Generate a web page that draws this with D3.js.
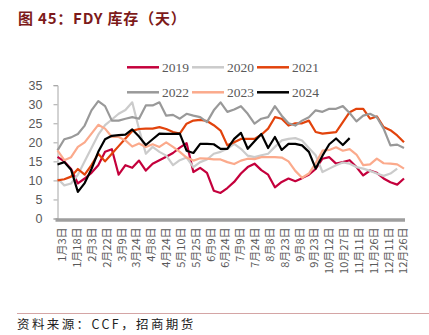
<!DOCTYPE html>
<html>
<head>
<meta charset="utf-8">
<script src="https://cdn.jsdelivr.net/npm/d3@7"></script>
<style>
  body { margin: 0; background: #fff; }
  svg { display: block; }
</style>
</head>
<body>
<div id="chart"></div>
<script>
var xLabels = ["1月3日","1月18日","2月3日","2月22日","3月9日","3月24日","4月8日","4月24日",
  "5月10日","5月25日","6月9日","6月24日","7月9日","7月24日","8月8日","8月23日",
  "9月8日","9月23日","10月12日","10月27日","11月11日","11月26日","12月11日","12月26日"];

var yTicks = [0, 5, 10, 15, 20, 25, 30, 35];

var seriesNames = ["2019", "2020", "2021", "2022", "2023", "2024"];
var seriesColors = ["#C4003C", "#CBCBCB", "#E2430C", "#999999", "#FBAA8C", "#000000"];

var v2019 = [16.2,15,13,9.2,10.5,12,14,17.5,18.2,11.5,14,13.3,15.2,12.6,14.4,15.3,16.2,17.2,18.6,19.8,
  12.2,13.3,12,7.3,6.7,8,9.6,11.8,13.5,14.4,12.7,11.5,8.2,9.6,10.5,9.8,10.6,11.5,13,15.7,
  16.1,14.4,14.8,15.3,13.5,11.3,12.6,12,10.5,9.5,8.9,10.5];
var v2020 = [10.5,8.7,9.2,11.5,15,18.5,22,24.5,26,27.5,28.5,30.5,23.5,17,18.8,17.5,16.5,14,15.3,16,
  13.5,14.8,15.5,17,17.5,18.3,19.6,18.3,16.5,16.1,16.6,17,18.8,20.5,20.9,21.1,20.5,18.5,16.6,12.2,
  13.1,14,14.7,14.4,13.5,13.1,12.5,11.8,11.2,11.8,13.1];
var v2021 = [10,10.3,11,13,11.5,14,17,15,17,19,21,23,23.5,23.6,23.6,24,23.5,22.7,22.3,24.9,
  25.7,25.9,25.6,24.5,23.1,19.2,20,20.9,20.9,20.9,22,23.6,26.6,26.2,24.4,25,25,25.7,22.7,22.3,
  22.5,22.7,25.3,27.9,28.8,28.8,26.2,26.8,24,23.2,21.8,20];
var v2022 = [17.9,20.8,21.3,22.2,24.4,28.4,30.8,29.5,25.7,25.7,26.2,26.6,26.2,29.7,29.7,30.5,27,27.2,26.2,27.5,
  27,26.6,25.3,28.4,30.5,28,28.6,29.5,27.5,24.9,26.2,26.6,29.5,27,25,24.4,25.7,26.6,28.4,28,
  28.8,28.8,29.5,27.7,25.5,27,27.5,26.6,23.6,19.2,19.4,18.5];
var v2023 = [17.9,15.3,16.1,18.8,20,22.3,24.6,23.6,21.4,21.4,20.5,18.9,19.7,18.8,19.5,18.8,20,18.8,17.5,16,
  15.2,15.8,15.7,15.5,15.5,14.8,14.3,15.2,15.7,15.6,16.1,16.1,16.1,16,15,12.5,10.7,11.8,14.5,17.8,
  18,18.7,17.8,18.2,16.8,14,14.2,15.7,14.5,14.4,14.2,13.1];
var v2024 = [14.2,14.8,12.8,7,9.3,13,17.5,20.8,21.7,21.9,22,23.4,21.5,19.3,20.8,22.3,22.2,22.2,22.3,17.8,
  17.2,19.6,19.6,19.5,18.3,18.3,20.9,22.5,18.3,20.3,22.2,18.5,21.4,18,19.6,19.6,19.2,17.5,13.1,16.5,
  19.5,21,19.3,21.1];

var allSeries = [v2019, v2020, v2021, v2022, v2023, v2024];

var width = 429, height = 335;
var plotLeft = 57.5, plotRight = 404, plotTop = 85.2, plotBottom = 218.5;
var nPoints = 52;

var svg = d3.select("#chart").append("svg")
  .attr("width", width)
  .attr("height", height);

/* Scales */
var xScale = d3.scaleLinear().domain([0, nPoints - 1]).range([plotLeft, plotRight]);
var xLabelScale = d3.scalePoint().domain(xLabels).range([62, 403]);
var yScale = d3.scaleLinear().domain([0, 35]).range([plotBottom, plotTop]);

/* Title */
svg.append("text")
  .attr("x", 18)
  .attr("y", 24)
  .style("font-family", "'Noto Sans CJK SC', sans-serif")
  .style("font-weight", "bold")
  .style("font-size", "15px")
  .style("letter-spacing", "0.8px")
  .style("fill", "#7D1A1A")
  .text("图 45：FDY 库存（天）");

/* Y axis */
var yAxis = d3.axisLeft(yScale).tickValues(yTicks).tickSize(4).tickPadding(11);
var yG = svg.append("g")
  .attr("transform", `translate(${plotLeft}, 0)`)
  .call(yAxis);
yG.select(".domain").attr("stroke", "#A6A6A6");
yG.selectAll(".tick line").attr("stroke", "#A6A6A6");
yG.selectAll(".tick text")
  .style("font-family", "'Liberation Sans', Arial, sans-serif")
  .style("font-size", "12.5px")
  .style("fill", "#595959");

/* X axis labels */
var xAxis = d3.axisBottom(xLabelScale).tickSize(0).tickPadding(0);
var xG = svg.append("g")
  .attr("transform", `translate(0, ${plotBottom})`)
  .call(xAxis);
xG.select(".domain").remove();
xG.selectAll(".tick text")
  .attr("transform", "rotate(-90)")
  .attr("x", -9)
  .attr("y", 0)
  .attr("dy", "0.35em")
  .style("text-anchor", "end")
  .style("font-family", "'Noto Sans CJK SC', sans-serif")
  .style("font-size", "11px")
  .style("fill", "#595959");

/* Thick baseline */
svg.append("line")
  .attr("x1", plotLeft - 2)
  .attr("x2", plotRight + 1)
  .attr("y1", yScale(0) + 1.5)
  .attr("y2", yScale(0) + 1.5)
  .attr("stroke", "#9E9E9E")
  .attr("stroke-width", 3.5);

/* Lines */
var line = d3.line()
  .x((d, i) => xScale(i))
  .y(d => yScale(d));

svg.append("g")
  .selectAll("path")
  .data(allSeries).enter()
  .append("path")
  .attr("d", d => line(d))
  .attr("fill", "none")
  .attr("stroke", (d, i) => seriesColors[i])
  .attr("stroke-width", 2.2)
  .attr("stroke-linejoin", "round");

/* Legend */
var legend = svg.append("g")
  .selectAll("g")
  .data(seriesNames).enter()
  .append("g")
  .attr("transform", (d, i) => `translate(${127 + (i % 3) * 65}, ${67.3 + Math.floor(i / 3) * 25})`);

legend.append("line")
  .attr("x1", 0).attr("x2", 32)
  .attr("y1", 0).attr("y2", 0)
  .attr("stroke", (d, i) => seriesColors[i])
  .attr("stroke-width", 2.5);

legend.append("text")
  .attr("x", 35)
  .attr("y", 0)
  .attr("dy", "0.35em")
  .style("font-family", "'Liberation Serif', 'Times New Roman', serif")
  .style("font-size", "13.5px")
  .style("fill", "#595959")
  .text(d => d);

/* Source */
svg.append("line")
  .attr("x1", 17).attr("x2", width)
  .attr("y1", 313.5).attr("y2", 313.5)
  .attr("stroke", "#D4A5A5")
  .attr("stroke-width", 1);

svg.append("text")
  .attr("x", 17)
  .attr("y", 329)
  .style("font-family", "'Noto Sans CJK SC', sans-serif")
  .style("font-size", "12.5px")
  .style("letter-spacing", "2.4px")
  .style("fill", "#222")
  .text("资料来源：CCF，招商期货");
</script>
</body>
</html>
